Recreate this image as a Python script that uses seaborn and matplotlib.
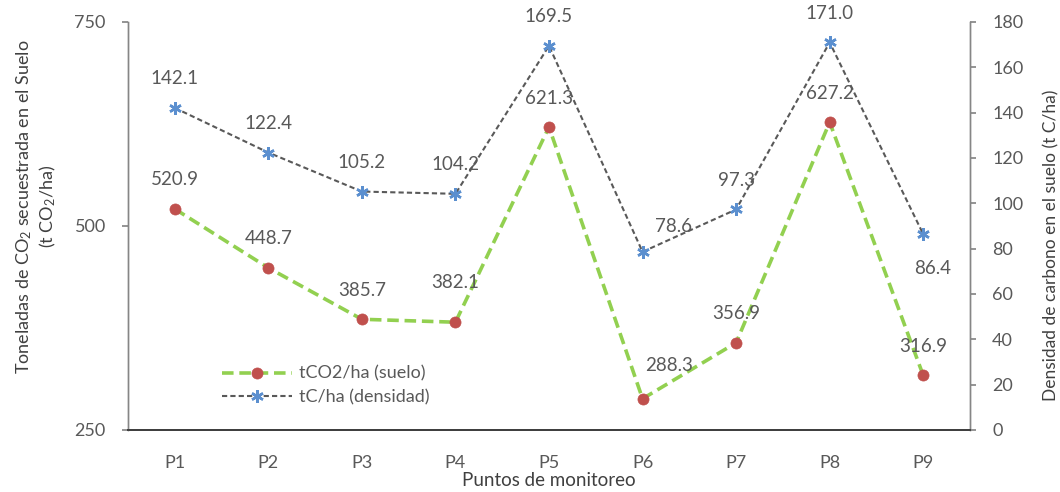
import matplotlib
matplotlib.use("Agg")
import matplotlib.pyplot as plt
import seaborn as sns

# Monitoring points and their measured values
puntos = ["P1", "P2", "P3", "P4", "P5", "P6", "P7", "P8", "P9"]
tco2_suelo = [520.9, 448.7, 385.7, 382.1, 621.3, 288.3, 356.9, 627.2, 316.9]
tc_densidad = [142.1, 122.4, 105.2, 104.2, 169.5, 78.6, 97.3, 171.0, 86.4]

left_ticks = [250, 500, 750]
right_ticks = list(range(0, 181, 20))

sns.set_theme(style="white")
plt.rcParams["font.family"] = ["Lato", "DejaVu Sans"]
plt.rcParams["mathtext.fontset"] = "custom"
plt.rcParams["mathtext.rm"] = "Lato"
plt.rcParams["mathtext.it"] = "Lato:italic"

TXT = "#595959"
AXC = "#868686"
GREEN = "#92D050"
RED = "#C0504D"
BLUE = "#5B8FCF"
DGRAY = "#595959"

fig = plt.figure(figsize=(10.6, 4.92), dpi=100)
ax = fig.add_axes([128 / 1060, 62 / 492, 842 / 1060, 408 / 492])
ax2 = ax.twinx()

sns.lineplot(x=puntos, y=tco2_suelo, ax=ax, sort=False, errorbar=None,
             color=GREEN, linewidth=2.6, linestyle=(0, (3.2, 1.6)),
             marker="o", markersize=8, markerfacecolor=RED,
             markeredgecolor=RED, markeredgewidth=0.5,
             label="tCO2/ha (suelo)", legend=False)
sns.lineplot(x=puntos, y=tc_densidad, ax=ax2, sort=False, errorbar=None,
             color=DGRAY, linewidth=1.5, linestyle=(0, (2.5, 1.5)),
             marker=(6, 2, 0), markersize=9, markerfacecolor=BLUE,
             markeredgecolor=BLUE, markeredgewidth=1.8,
             label="tC/ha (densidad)", legend=False)

ax.set_xlim(-0.5, len(puntos) - 0.5)
ax.set_ylim(250, 750)
ax.set_yticks(left_ticks)
ax2.set_ylim(0, 180)
ax2.set_yticks(right_ticks)

# Value labels: centred above each point, a few nudged aside
px = 100 / 72  # pixels per point at this dpi
off_co2 = [(0, 29)] * len(puntos)
off_co2[3] = (0, 40)
off_co2[5] = (26, 33)
off_tc = [(0, 29)] * len(puntos)
off_tc[5] = (31, 25)
off_tc[8] = (9, -34)

for i, v in enumerate(tco2_suelo):
    dx, dy = off_co2[i]
    ax.annotate(f"{v:.1f}", (i, v), xytext=(dx / px, dy / px),
                textcoords="offset points", ha="center", va="center",
                fontsize=13.5, color=TXT, annotation_clip=False)
for i, v in enumerate(tc_densidad):
    dx, dy = off_tc[i]
    ax2.annotate(f"{v:.1f}", (i, v), xytext=(dx / px, dy / px),
                 textcoords="offset points", ha="center", va="center",
                 fontsize=13.5, color=TXT, annotation_clip=False)

# Axes styling
for a in (ax, ax2):
    a.spines["top"].set_visible(False)
    a.spines["left"].set_color(AXC)
    a.spines["right"].set_color(AXC)
    a.spines["bottom"].set_color("#404040")
    a.spines["bottom"].set_linewidth(1.4)
    a.spines["left"].set_linewidth(1.0)
    a.spines["right"].set_linewidth(1.0)

ax.tick_params(axis="y", left=True, length=4, color=AXC, pad=12,
               labelsize=13, labelcolor=TXT)
ax.tick_params(axis="x", bottom=False, pad=12, labelsize=13, labelcolor=TXT)
ax2.tick_params(axis="y", right=True, length=4, color=AXC, pad=12,
                labelsize=13, labelcolor=TXT)

ax.set_xlabel("Puntos de monitoreo", fontsize=13.5, color="#404040", labelpad=1)
ax.set_ylabel("Toneladas de CO$_2$ secuestrada en el Suelo\n(t CO$_2$/ha)",
              fontsize=13, color="#404040", linespacing=1.25)
ax.yaxis.set_label_coords(-0.083, 0.547)
ax2.set_ylabel("Densidad de carbono en el suelo (t C/ha)",
               fontsize=12.5, color="#404040")
ax2.yaxis.set_label_coords(1.087, 0.453)

handles = ax.get_lines()[:1] + ax2.get_lines()[:1]
labels = ["tCO2/ha (suelo)", "tC/ha (densidad)"]
ax.legend(handles, labels, loc="center left",
          bbox_to_anchor=((222 - 128) / 842, (430 - 385.5) / 408),
          frameon=False, fontsize=13, handlelength=3.9, handletextpad=0.35,
          labelspacing=0.4, borderpad=0, borderaxespad=0, labelcolor=TXT)
ax2.set_zorder(ax.get_zorder() + 1)
ax2.patch.set_visible(False)

fig.savefig("out.png", dpi=100)
